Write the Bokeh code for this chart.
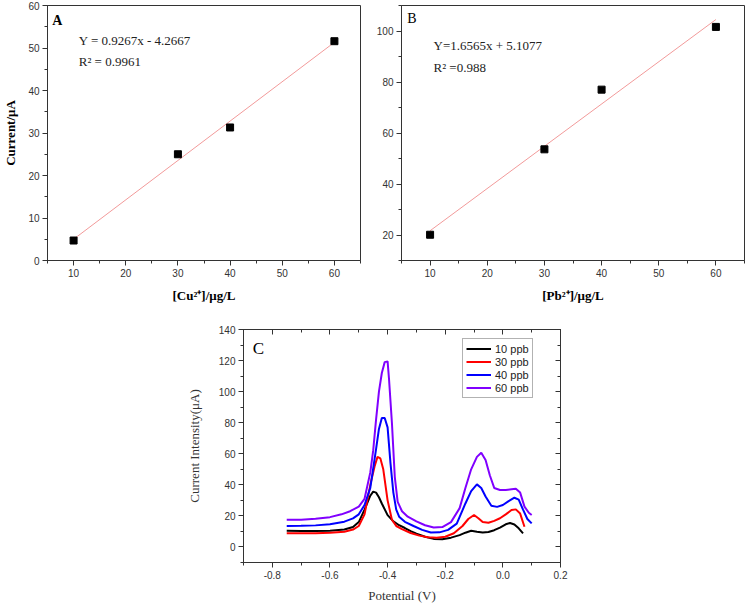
from bokeh.plotting import figure
from bokeh.layouts import column, row
from bokeh.models import (Range1d, SingleIntervalTicker, LinearAxis, Label, Spacer,
                          CustomJSTickFormatter)
from bokeh.embed import file_html
from bokeh.resources import INLINE

# ---- Panel A: Cu2+ calibration ----
cu_conc = [10, 30, 40, 60]
cu_current = [4.7, 25.0, 31.3, 51.6]
cu_slope, cu_intercept = 0.9267, -4.2667
cu_eq = "Y = 0.9267x - 4.2667"
cu_r2 = "R² = 0.9961"

# ---- Panel B: Pb2+ calibration ----
pb_conc = [10, 30, 40, 60]
pb_current = [20.1, 53.6, 77.0, 101.6]
pb_slope, pb_intercept = 1.6565, 5.1077
pb_eq = "Y=1.6565x + 5.1077"
pb_r2 = "R² =0.988"

fit_x = [10, 60]

# ---- Panel C: stripping voltammograms ----
curve_labels = ["10 ppb", "30 ppb", "40 ppb", "60 ppb"]
curve_colors = ["#000000", "#ff0000", "#0000ff", "#8000ff"]

pot_10 = [-0.75, -0.70, -0.65, -0.60, -0.55, -0.52, -0.50, -0.48, -0.46, -0.45, -0.44,
          -0.43, -0.42, -0.40, -0.38, -0.36, -0.34, -0.32, -0.30, -0.27, -0.24, -0.21,
          -0.18, -0.15, -0.13, -0.11, -0.09, -0.07, -0.05, -0.03, -0.01, 0.01, 0.025,
          0.04, 0.055, 0.07]
cur_10 = [10.4, 10.3, 10.3, 10.5, 11.2, 12.8, 16.0, 24.0, 33.0, 35.6, 35.0,
          32.0, 28.0, 20.5, 16.5, 14.0, 12.2, 10.2, 8.5, 6.6, 5.2, 5.0,
          6.0, 7.6, 9.2, 10.4, 9.8, 9.3, 9.6, 10.8, 12.5, 14.6, 15.4,
          14.5, 12.0, 8.8]

pot_30 = [-0.75, -0.70, -0.65, -0.60, -0.55, -0.52, -0.50, -0.48, -0.46, -0.445, -0.435,
          -0.425, -0.415, -0.40, -0.385, -0.37, -0.35, -0.32, -0.29, -0.26, -0.23, -0.20,
          -0.17, -0.14, -0.12, -0.10, -0.085, -0.07, -0.05, -0.03, -0.01, 0.01, 0.03,
          0.045, 0.06, 0.075]
cur_30 = [8.8, 8.8, 8.9, 9.1, 9.8, 11.2, 13.5, 21.0, 40.0, 52.0, 58.0,
          57.0, 50.0, 30.0, 17.5, 13.5, 11.5, 9.0, 7.3, 6.3, 6.0, 6.6,
          8.8, 13.5, 18.0, 20.6, 18.5, 16.0, 15.6, 16.8, 18.5, 21.0, 23.8,
          24.2, 21.5, 13.0]

pot_40 = [-0.75, -0.70, -0.65, -0.60, -0.55, -0.52, -0.50, -0.48, -0.46, -0.44, -0.43,
          -0.42, -0.41, -0.40, -0.39, -0.38, -0.37, -0.36, -0.34, -0.31, -0.28, -0.25,
          -0.22, -0.19, -0.16, -0.13, -0.11, -0.09, -0.075, -0.06, -0.04, -0.02, 0.0,
          0.02, 0.04, 0.055, 0.07, 0.085, 0.10]
cur_40 = [13.5, 13.6, 13.9, 14.6, 16.3, 18.4, 21.0, 27.0, 38.0, 63.0, 76.0,
          83.0, 83.0, 77.0, 54.0, 35.0, 24.0, 19.5, 16.2, 13.5, 11.0, 9.3,
          9.4, 11.0, 15.0, 28.0, 36.0, 40.3, 38.0, 32.5, 26.5, 25.8, 27.0,
          29.5, 31.7, 30.5, 24.0, 18.0, 15.2]

pot_60 = [-0.75, -0.70, -0.65, -0.60, -0.56, -0.53, -0.50, -0.48, -0.46, -0.45, -0.44,
          -0.43, -0.42, -0.41, -0.40, -0.395, -0.385, -0.375, -0.365, -0.35, -0.33, -0.30,
          -0.27, -0.24, -0.21, -0.18, -0.15, -0.13, -0.11, -0.09, -0.075, -0.06, -0.045,
          -0.03, -0.01, 0.01, 0.03, 0.045, 0.06, 0.075, 0.09, 0.10]
cur_60 = [17.6, 17.6, 18.2, 19.2, 21.0, 23.0, 26.0, 31.0, 48.0, 62.0, 82.0,
          100.0, 112.0, 119.0, 119.5, 108.0, 80.0, 45.0, 29.0, 23.0, 19.5, 16.5,
          14.0, 12.5, 12.8, 16.0, 25.0, 38.0, 50.0, 58.0, 60.7, 56.0, 46.0,
          38.0, 36.7, 36.7, 37.2, 37.5, 35.0, 26.0, 22.0, 20.6]

SERIF = "Liberation Serif"
SANS = "Liberation Sans"
AXIS_GREY = "#333333"


def style_axes(p, tick_font="10px"):
    for ax in (p.xaxis[0], p.yaxis[0]):
        ax.axis_line_color = AXIS_GREY
        ax.major_tick_line_color = AXIS_GREY
        ax.minor_tick_line_color = AXIS_GREY
        ax.major_tick_in = 0
        ax.major_tick_out = 5
        ax.minor_tick_in = 0
        ax.minor_tick_out = 3
        ax.major_label_text_font = SANS
        ax.major_label_text_font_size = tick_font
        ax.major_label_text_color = AXIS_GREY
        ax.major_label_standoff = 3
        ax.axis_label_text_font = SERIF
        ax.axis_label_text_font_size = "13px"
        ax.axis_label_text_font_style = "normal"
        ax.axis_label_text_color = "#000000"
    p.grid.visible = False
    p.outline_line_color = AXIS_GREY
    p.outline_line_width = 1
    p.background_fill_color = "white"
    p.border_fill_color = "white"


def calib_panel(width, left, right, x, y, slope, intercept, y_range, y_step,
                xlabel, ylabel, letter, letter_bold, letter_pos, eq, r2, eq_pos, r2_pos):
    p = figure(width=width, height=305, output_backend="svg", toolbar_location=None,
               x_range=Range1d(5, 65), y_range=Range1d(*y_range),
               min_border_left=left, min_border_right=right,
               min_border_top=5, min_border_bottom=44)
    style_axes(p)
    p.xaxis.ticker = SingleIntervalTicker(interval=10, num_minor_ticks=2)
    p.yaxis.ticker = SingleIntervalTicker(interval=y_step, num_minor_ticks=2)
    p.xaxis.axis_label = xlabel
    p.xaxis.axis_label_text_font_style = "bold"
    p.xaxis.axis_label_standoff = 8
    if ylabel:
        p.yaxis.axis_label = ylabel
        p.yaxis.axis_label_text_font_style = "bold"
        p.yaxis.axis_label_standoff = 7

    fy = [slope * v + intercept for v in fit_x]
    p.line(fit_x, fy, line_color="#f29a9a", line_width=1)
    p.scatter(x, y, marker="square", size=7, fill_color="black", line_color="black")

    p.add_layout(Label(x=letter_pos[0], y=letter_pos[1], text=letter,
                       text_font=SERIF, text_font_size="14px",
                       text_font_style="bold" if letter_bold else "normal",
                       text_baseline="middle", text_color="black"))
    p.add_layout(Label(x=eq_pos[0], y=eq_pos[1], text=eq, text_font=SERIF,
                       text_font_size="13px", text_baseline="middle", text_color="#222222"))
    p.add_layout(Label(x=r2_pos[0], y=r2_pos[1], text=r2, text_font=SERIF,
                       text_font_size="13px", text_baseline="middle", text_color="#222222"))
    return p


pA = calib_panel(370, 43, 10, cu_conc, cu_current, cu_slope, cu_intercept, (0, 60), 10,
                 "[Cu²⁺]/μg/L", "Current/μA", "A", True, (5.9, 56.4),
                 cu_eq, cu_r2, (11.0, 51.8), (11.0, 46.9))
pB = calib_panel(380, 31, 6, pb_conc, pb_current, pb_slope, pb_intercept, (10, 110), 20,
                 "[Pb²⁺]/μg/L", None, "B", False, (6.0, 104.8),
                 pb_eq, pb_r2, (10.6, 94.2), (10.6, 85.6))

# ---- Panel C figure ----
pC = figure(width=400, height=300, output_backend="svg", toolbar_location=None,
            x_range=Range1d(-0.9, 0.2), y_range=Range1d(-10, 140),
            min_border_left=63, min_border_right=20, min_border_top=24, min_border_bottom=42)
style_axes(pC)
pC.xaxis.ticker = SingleIntervalTicker(interval=0.2, num_minor_ticks=2)
pC.xaxis.formatter = CustomJSTickFormatter(
    code="const v = Math.abs(tick) < 1e-9 ? 0 : tick; return v.toFixed(1);")
pC.yaxis.ticker = SingleIntervalTicker(interval=20, num_minor_ticks=2)
pC.xaxis.axis_label = "Potential (V)"
pC.yaxis.axis_label = "Current Intensity(μA)"
pC.xaxis.axis_label_standoff = 6
pC.yaxis.axis_label_standoff = 14
pC.xaxis.axis_label_text_color = AXIS_GREY
pC.yaxis.axis_label_text_color = AXIS_GREY

# mirrored axes with inward ticks on top and right, labels not painted
for loc, tick in (("above", SingleIntervalTicker(interval=0.2, num_minor_ticks=2)),
                  ("right", SingleIntervalTicker(interval=20, num_minor_ticks=2))):
    ax = LinearAxis(ticker=tick, major_label_text_color=None,
                    major_tick_in=5, major_tick_out=0, minor_tick_in=3, minor_tick_out=0,
                    axis_line_color=AXIS_GREY, major_tick_line_color=AXIS_GREY,
                    minor_tick_line_color=AXIS_GREY, major_label_standoff=0)
    pC.add_layout(ax, loc)

for xs, ys, lab, col in zip([pot_10, pot_30, pot_40, pot_60],
                            [cur_10, cur_30, cur_40, cur_60],
                            curve_labels, curve_colors):
    pC.line(xs, ys, line_color=col, line_width=2, legend_label=lab)

pC.add_layout(Label(x=-0.868, y=128, text="C", text_font=SERIF, text_font_size="17px",
                    text_baseline="middle", text_color="black"))

lg = pC.legend[0]
lg.location = (219, 164)
lg.label_text_font = SANS
lg.label_text_font_size = "11px"
lg.label_text_color = "#222222"
lg.glyph_width = 25
lg.glyph_height = 13
lg.label_height = 13
lg.label_standoff = 4
lg.spacing = 0
lg.padding = 3
lg.margin = 0
lg.border_line_color = "#666666"
lg.border_line_width = 1
lg.background_fill_alpha = 1

layout = column(row(pA, pB), row(Spacer(width=180, height=300), pC))

with open("out.html", "w") as f:
    f.write(file_html(layout, INLINE))
